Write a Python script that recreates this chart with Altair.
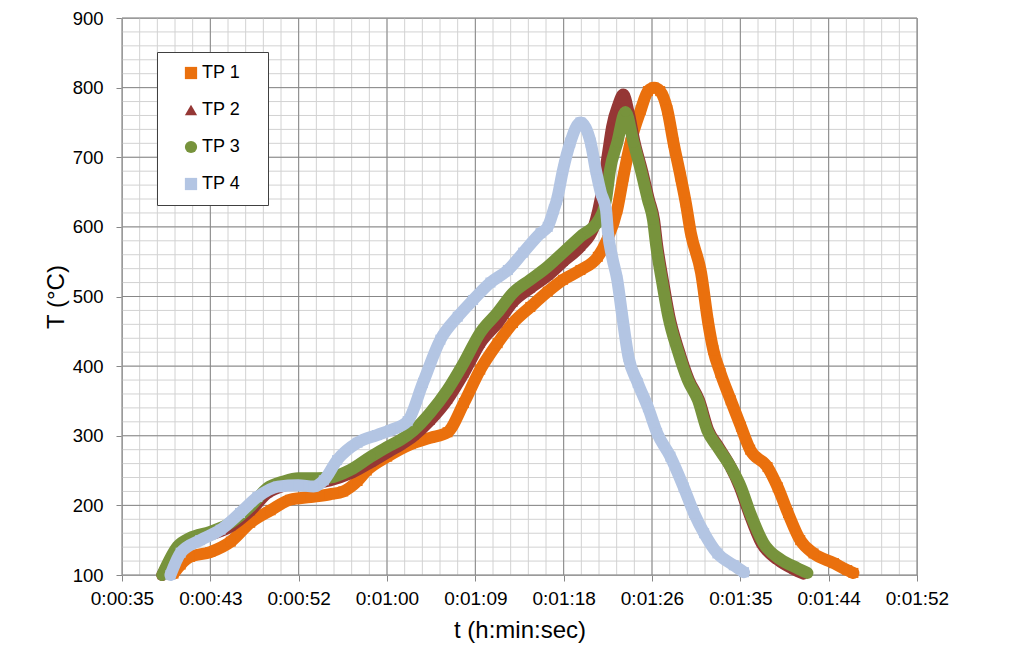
import altair as alt
import pandas as pd

SERIES = ["TP 1", "TP 2", "TP 3", "TP 4"]
COLORS = ["#EA700D", "#953735", "#77933C", "#B3C5E3"]
SHAPES = ["square", "triangle-up", "circle", "square"]

# time in seconds, temperature in degC
TP1_t = [39.6, 40.3, 41.2, 43.2, 45.2, 47.1, 49.1, 51.0, 53.0, 54.9, 56.2, 57.6, 58.5, 60.5,
         62.8, 64.7, 66.4, 68.0, 69.6, 71.3, 72.8, 74.5, 76.2, 77.7, 79.4, 81.1, 82.0, 83.0,
         83.6, 84.3, 85.3, 86.0, 86.6, 87.2, 87.9, 88.5, 89.2, 89.7, 90.2, 91.2, 91.9, 92.4,
         93.1, 94.1, 95.1, 96.0, 97.7, 98.7, 99.7, 100.9, 102.2, 104.2, 105.5, 106.1]
TP1_T = [102, 115, 126, 133, 148, 175, 193, 208, 212, 216, 220, 235, 250, 270,
         288, 297, 305, 347, 395, 433, 462, 485, 507, 524, 538, 557, 581, 625,
         672, 721, 768, 795, 800, 795, 768, 721, 672, 635, 591, 534, 462, 423,
         390, 351, 313, 280, 255, 226, 189, 150, 131, 117, 107, 103]

TP2_t = [38.5, 40.0, 41.2, 43.2, 45.2, 47.1, 48.8, 50.3, 51.8, 53.7, 54.9, 56.9, 58.9, 60.5,
         61.8, 63.1, 64.7, 66.4, 68.0, 69.6, 71.3, 72.8, 74.5, 76.2, 77.7, 79.4, 80.7, 81.6,
         82.1, 82.5, 83.1, 83.6, 84.1, 84.7, 85.4, 86.1, 86.6, 86.9, 87.5, 88.1, 89.0, 90.0,
         91.0, 91.9, 92.9, 94.1, 95.0, 95.9, 97.1, 98.7, 100.3, 101.2]
TP2_T = [100, 135, 148, 158, 170, 192, 218, 228, 232, 233, 236, 246, 262, 276,
         287, 300, 322, 352, 390, 433, 462, 492, 512, 530, 550, 572, 600, 658,
         706, 744, 775, 790, 765, 721, 682, 639, 610, 574, 520, 471, 423, 380,
         351, 308, 284, 255, 226, 189, 146, 122, 108, 102]

TP3_t = [38.5, 40.0, 41.2, 43.2, 45.2, 47.1, 48.8, 50.3, 51.8, 53.7, 54.9, 56.9, 58.9, 60.5,
         61.8, 63.1, 64.7, 66.4, 68.0, 69.6, 71.3, 72.8, 74.5, 76.2, 77.7, 79.4, 81.2, 81.9,
         82.3, 83.0, 83.8, 84.6, 85.3, 86.0, 86.5, 86.8, 87.4, 88.0, 88.9, 89.9, 90.9, 91.8,
         92.8, 94.1, 95.1, 96.0, 97.3, 99.0, 100.6, 101.6]
TP3_T = [100, 141, 153, 162, 175, 198, 225, 234, 239, 239, 240, 251, 270, 284,
         294, 308, 333, 366, 405, 448, 477, 505, 524, 543, 563, 586, 610, 639,
         682, 721, 765, 721, 682, 639, 610, 574, 520, 471, 423, 380, 351, 308,
         284, 255, 226, 189, 146, 122, 110, 103]

TP4_t = [39.3, 40.3, 42.2, 44.2, 46.1, 47.8, 49.8, 51.8, 53.3, 54.3, 55.6, 57.6, 59.5, 60.8,
         62.5, 64.0, 65.7, 67.4, 68.9, 70.6, 72.3, 73.8, 75.5, 76.2, 76.8, 77.1, 77.7, 78.4,
         79.4, 80.4, 80.9, 81.4, 81.9, 82.1, 82.5, 83.0, 83.5, 84.1, 85.0, 86.0, 86.9, 88.2,
         89.5, 90.5, 91.5, 92.8, 94.4, 95.4]
TP4_T = [100, 132, 150, 165, 189, 212, 227, 229, 227, 236, 265, 290, 301, 308,
         321, 376, 438, 471, 495, 520, 538, 563, 591, 600, 625, 639, 682, 721,
         750, 721, 682, 649, 625, 591, 557, 524, 471, 413, 376, 341, 304, 270,
         226, 189, 160, 131, 114, 104]

# axis ticks: x in seconds (Excel steps of 0.0001 day), y in degC
X_TICKS = [34.56, 43.2, 51.84, 60.48, 69.12, 77.76, 86.4, 95.04, 103.68, 112.32]
Y_TICKS = [100, 200, 300, 400, 500, 600, 700, 800, 900]

rows = []
for name, ts, vs in zip(SERIES, [TP1_t, TP2_t, TP3_t, TP4_t], [TP1_T, TP2_T, TP3_T, TP4_T]):
    assert len(ts) == len(vs), name
    for a, b in zip(ts, vs):
        rows.append({"series": name, "t": a, "T": b})
df = pd.DataFrame(rows)

step_x = (X_TICKS[1] - X_TICKS[0]) / 5
minor_x = [X_TICKS[0] + step_x * i for i in range(5 * (len(X_TICKS) - 1) + 1)]
minor_y = [Y_TICKS[0] + 20 * i for i in range(5 * (len(Y_TICKS) - 1) + 1)]

MAJOR = "#878787"
MINOR = "#d2d2d2"
FONT = "Liberation Sans"

xscale = alt.Scale(domain=[X_TICKS[0], X_TICKS[-1]], nice=False, zero=False)
yscale = alt.Scale(domain=[Y_TICKS[0], Y_TICKS[-1]], nice=False, zero=False)

XAXIS = alt.Axis(values=X_TICKS, labelExpr="utcFormat(round(datum.value)*1000, '%-H:%M:%S')",
                 grid=False, tickSize=6, tickColor=MAJOR, domainColor=MAJOR,
                 labelFontSize=19, labelPadding=8, labelFont=FONT, labelColor="black",
                 labelFlush=False, labelOverlap=False,
                 title="t (h:min:sec)", titleFontSize=24, titlePadding=10,
                 titleFont=FONT, titleFontWeight="normal", titleColor="black")
YAXIS = alt.Axis(values=Y_TICKS, grid=False, tickSize=6, tickColor=MAJOR, domainColor=MAJOR,
                 labelFontSize=18.5, labelPadding=13, labelFont=FONT, labelColor="black",
                 labelFlush=False, labelOverlap=False,
                 title="T (°C)", titleFontSize=24, titlePadding=4,
                 titleFont=FONT, titleFontWeight="normal", titleColor="black")


def xenc(f):
    return alt.X(f, scale=xscale, axis=XAXIS)


def yenc(f):
    return alt.Y(f, scale=yscale, axis=YAXIS)


# invisible title placed to the right only widens the legend box
LEG = alt.Legend(title="x", titleOrient="right", titleOpacity=0, titleFontSize=10,
                 titlePadding=10, orient="none", legendX=35, legendY=34, fillColor="white",
                 strokeColor="#404040", padding=12, symbolOffset=13, rowPadding=19,
                 labelFontSize=18, labelFont=FONT, labelColor="black", symbolSize=150,
                 symbolStrokeWidth=0, labelOffset=2)

layers = [
    alt.Chart(pd.DataFrame({"v": minor_x})).mark_rule(color=MINOR, strokeWidth=1).encode(x=xenc("v:Q")),
    alt.Chart(pd.DataFrame({"v": minor_y})).mark_rule(color=MINOR, strokeWidth=1).encode(y=yenc("v:Q")),
    alt.Chart(pd.DataFrame({"v": X_TICKS})).mark_rule(color=MAJOR, strokeWidth=1).encode(x=xenc("v:Q")),
    alt.Chart(pd.DataFrame({"v": Y_TICKS})).mark_rule(color=MAJOR, strokeWidth=1).encode(y=yenc("v:Q")),
]

for i, name in enumerate(SERIES):
    sub = alt.Chart(df).transform_filter(alt.datum.series == name)
    line = sub.mark_line(color=COLORS[i], strokeWidth=12, interpolate="monotone",
                         strokeJoin="round", strokeCap="round").encode(
        x=xenc("t:Q"), y=yenc("T:Q"))
    pts = sub.mark_point(filled=True, size=100, opacity=1).encode(
        x=xenc("t:Q"), y=yenc("T:Q"),
        color=alt.Color("series:N", scale=alt.Scale(domain=SERIES, range=COLORS), legend=LEG),
        shape=alt.Shape("series:N", scale=alt.Scale(domain=SERIES, range=SHAPES), legend=LEG))
    layers += [line, pts]

chart = alt.layer(*layers).properties(
    width=795, height=557,
    autosize=alt.AutoSizeParams(type="none"),
    padding={"left": 122, "top": 18, "right": 107, "bottom": 85},
    background="white",
).configure_view(stroke=MAJOR, strokeWidth=1)

chart.save("out.html", embed_options={"renderer": "svg", "actions": False})
